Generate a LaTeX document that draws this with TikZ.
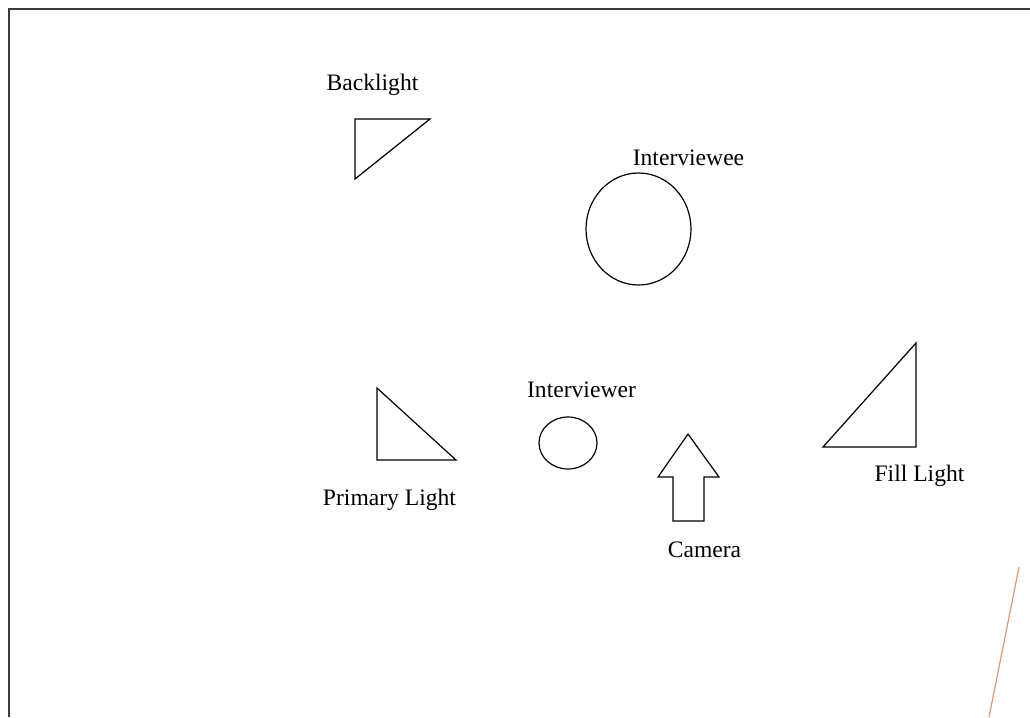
\documentclass[tikz,border=0pt]{standalone}
\usepackage{fontspec}
\setmainfont{Liberation Serif}
\definecolor{framegray}{RGB}{60,60,60}
\definecolor{tanline}{RGB}{214,152,118}
\tikzset{
  outl/.style={draw=black, line width=1.2pt, line join=miter},
  lbl/.style={anchor=base, inner sep=0pt, font=\fontsize{23.6}{28}\selectfont},
}
\begin{document}
\begin{tikzpicture}[x=1pt,y=-1pt]
\useasboundingbox (0,0) rectangle (1030,717);
% frame
\draw[framegray, line width=2pt] (8.5,717) -- (8.5,9.5) -- (1030,9.5);
% tan line
\draw[tanline, line width=1.2pt] (1019,567) -- (989,717);
% Backlight
\node[lbl] (tbl) at (372.5,90) {Backlight};
\draw[outl] (355,119) -- (430,119) -- (355,179) -- cycle;
% Interviewee
\node[lbl] (tie) at (688.5,165) {Interviewee};
\draw[outl] (638.5,229) ellipse [x radius=52.5, y radius=56];
% Primary light
\draw[outl] (377,388) -- (377,460) -- (456,460) -- cycle;
\node[lbl] (tpl) at (389.5,505) {Primary Light};
% Interviewer
\node[lbl] (tir) at (581.5,397) {Interviewer};
\draw[outl] (568,443) ellipse [x radius=29, y radius=26];
% Camera
\draw[outl] (688,434) -- (719,477) -- (704,477) -- (704,521) -- (673,521) -- (673,477) -- (658,477) -- cycle;
\node[lbl] (tcam) at (704.5,557) {Camera};
% Fill light
\draw[outl] (916,343) -- (916,447) -- (823,447) -- cycle;
\node[lbl] (tfl) at (919.5,481) {Fill Light};
\end{tikzpicture}
\end{document}
